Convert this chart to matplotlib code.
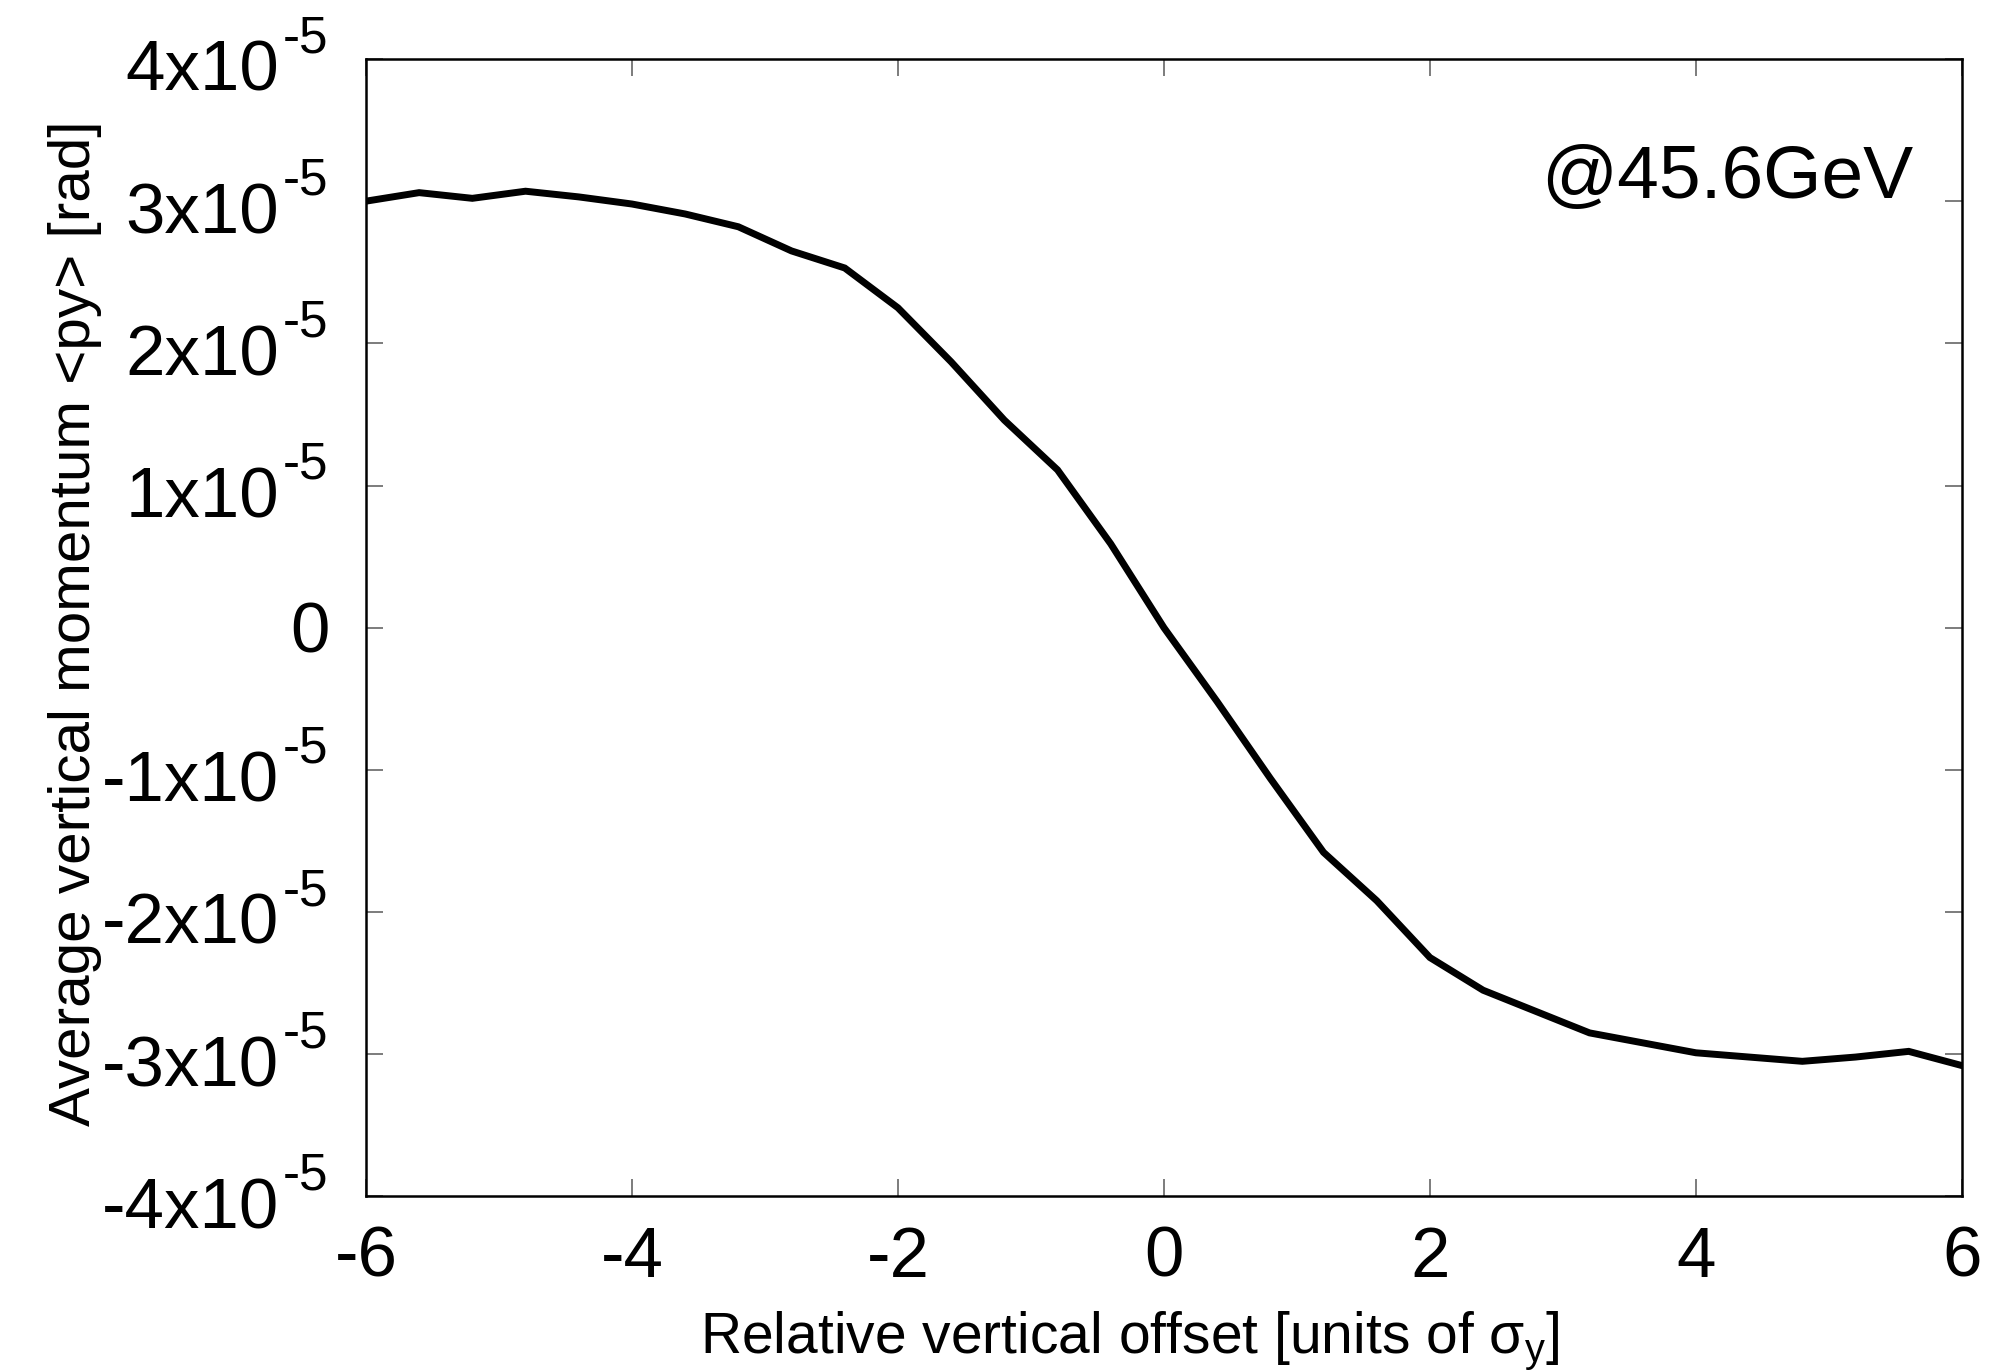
import matplotlib
matplotlib.use("Agg")
import matplotlib.pyplot as plt
from matplotlib.ticker import FixedLocator, FuncFormatter
import matplotlib.transforms as mtransforms

plt.rcParams['font.family'] = ['Liberation Sans', 'DejaVu Sans']
plt.rcParams['mathtext.fontset'] = 'custom'
plt.rcParams['mathtext.rm'] = 'Liberation Sans'
plt.rcParams['mathtext.it'] = 'Liberation Sans:italic'
plt.rcParams['mathtext.default'] = 'regular'
plt.rcParams['axes.unicode_minus'] = False

# Data (offset in units of sigma_y, average vertical momentum in units of 1e-5 rad)
offset = [-6.0, -5.6, -5.2, -4.8, -4.4, -4.0, -3.6, -3.2, -2.8, -2.4, -2.0,
          -1.6, -1.2, -0.8, -0.4, 0.0, 0.4, 0.8, 1.2, 1.6, 2.0, 2.4, 2.8,
          3.2, 3.6, 4.0, 4.4, 4.8, 5.2, 5.6, 6.0]
py_e5 = [3.00, 3.06, 3.02, 3.07, 3.03, 2.98, 2.91, 2.82, 2.65, 2.53, 2.25,
         1.87, 1.46, 1.11, 0.59, 0.00, -0.52, -1.06, -1.58, -1.92, -2.32,
         -2.55, -2.70, -2.85, -2.92, -2.99, -3.02, -3.05, -3.02, -2.98, -3.08]
py = [v * 1e-5 for v in py_e5]

xticks = [-6, -4, -2, 0, 2, 4, 6]
yticks_e5 = [-4, -3, -2, -1, 0, 1, 2, 3, 4]
yticks = [v * 1e-5 for v in yticks_e5]

fig = plt.figure(figsize=(20.04, 13.72), dpi=100)
ax = fig.add_axes([0.1826, 0.128, 0.7964, 0.829])

ax.plot(offset, py, color='black', lw=5.0, solid_joinstyle='miter')

ax.set_xlim(-6, 6)
ax.set_ylim(-4e-5, 4e-5)
ax.xaxis.set_major_locator(FixedLocator(xticks))
ax.yaxis.set_major_locator(FixedLocator(yticks))
ax.xaxis.set_major_formatter(FuncFormatter(lambda v, p: '%d' % round(v)))

ax.tick_params(axis='both', which='major', direction='in', length=12,
               width=1.2, color='#666666', top=True, right=True)
ax.tick_params(axis='x', labelsize=51, pad=21)
ax.tick_params(axis='y', labelleft=False)

# y tick labels in gnuplot style: "Nx10" with raised "-5"
ytrans = mtransforms.blended_transform_factory(ax.transAxes, ax.transData)
for n, v in zip(yticks_e5, yticks):
    if n == 0:
        t = mtransforms.offset_copy(ytrans, fig=fig, x=-26, y=-18, units='points')
        ax.text(0, v, '0', transform=t, ha='right', va='baseline', fontsize=51)
    else:
        t = mtransforms.offset_copy(ytrans, fig=fig, x=-62.6, y=-23, units='points')
        ax.text(0, v, '%dx10' % n, transform=t, ha='right', va='baseline',
                fontsize=51)
        t2 = mtransforms.offset_copy(ytrans, fig=fig, x=-59.8, y=5, units='points')
        ax.text(0, v, '-5', transform=t2, ha='left', va='baseline',
                fontsize=37)

for s in ax.spines.values():
    s.set_linewidth(1.8)
    s.set_color('black')

xl = ax.set_xlabel(r'Relative vertical offset [units of $\sigma_{y}$]', fontsize=41)
ax.xaxis.set_label_coords(0.4787, -0.1381)
xl.set_va('baseline')

yl = ax.set_ylabel('Average vertical momentum <py> [rad]', fontsize=42)
ax.yaxis.set_label_coords(-0.1729, 0.504)
yl.set_rotation_mode('anchor')
yl.set_ha('center')
yl.set_va('baseline')

ax.text(0.9695, 0.8777, '@45.6GeV', transform=ax.transAxes, ha='right',
        va='baseline', fontsize=54)

fig.savefig('out.png', dpi=100)
